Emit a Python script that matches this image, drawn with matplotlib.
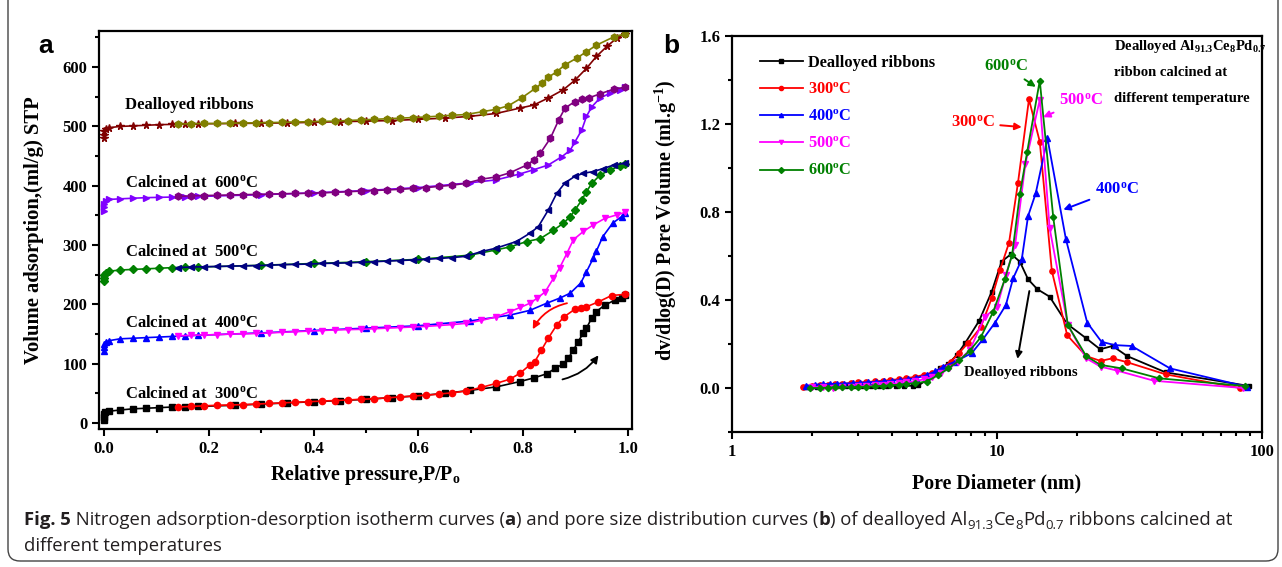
import matplotlib.pyplot as plt
import numpy as np
from matplotlib.patches import FancyBboxPatch
from matplotlib.lines import Line2D

# ---------------- data: (a) isotherms ----------------
p_des_mid = [0.14, 0.165, 0.19, 0.215, 0.24, 0.265, 0.29, 0.315, 0.34, 0.365, 0.39, 0.415,
             0.44, 0.465, 0.49, 0.515, 0.54, 0.565, 0.59, 0.615, 0.64, 0.665, 0.69]

p_300_ads = [0, 0, 0, 0.002, 0.01, 0.03, 0.055, 0.08, 0.105, 0.13, 0.155, 0.18, 0.25, 0.3, 0.35, 0.4,
             0.45, 0.5, 0.55, 0.6, 0.65, 0.698, 0.749, 0.794, 0.82, 0.845, 0.861, 0.877, 0.886, 0.896,
             0.905, 0.915, 0.921, 0.931, 0.94, 0.956, 0.975, 0.988, 0.994]
v_300_ads = [5, 10, 15, 18, 20, 22, 24, 25, 26, 27, 27.5, 28, 30, 32, 34, 36, 38, 40, 43, 46, 50, 55,
             61, 70, 76, 83, 92, 100, 109, 123, 137, 152, 160, 177, 188, 199, 207, 210, 216]
p_300_des = p_des_mid + [0.72, 0.749, 0.775, 0.794, 0.813, 0.822, 0.835, 0.848, 0.864, 0.878, 0.899,
                         0.911, 0.921, 0.943, 0.969, 0.994]
v_300_des = [27, 28, 29, 30, 30.5, 31, 32, 33, 34, 35, 36, 37, 38, 39, 40, 41, 42.5, 44, 45.5, 47, 49,
             51, 54, 60, 67, 74, 84, 98, 103, 123, 143, 165, 179, 192, 194, 196, 204, 215, 217]

p_400_ads = [0, 0, 0, 0.003, 0.01, 0.03, 0.055, 0.08, 0.105, 0.13, 0.155, 0.18, 0.3, 0.4, 0.5, 0.6,
             0.698, 0.775, 0.813, 0.845, 0.871, 0.89, 0.91, 0.921, 0.934, 0.94, 0.952, 0.971, 0.988, 0.994]
v_400_ads = [122, 128, 133, 136, 139, 142, 143, 144, 145, 146, 147, 148, 152, 156, 160, 164, 172, 182,
             190, 202, 211, 219, 236, 255, 278, 290, 314, 337, 348, 354]
p_400_des = p_des_mid + [0.72, 0.749, 0.775, 0.795, 0.813, 0.826, 0.842, 0.858, 0.870, 0.883, 0.896,
                         0.915, 0.934, 0.956, 0.979, 0.994]
v_400_des = [147, 148, 148.5, 149, 150, 150.5, 151, 152, 153, 154, 155, 156, 157, 157.5, 158, 159, 160,
             161, 162, 163, 164.5, 166, 168, 173, 179, 188, 195, 202, 210, 221, 244, 262, 285, 309, 323,
             334, 345, 351, 355]

p_500_ads = [0, 0, 0, 0.003, 0.01, 0.03, 0.055, 0.08, 0.105, 0.13, 0.155, 0.18, 0.3, 0.4, 0.5, 0.6,
             0.698, 0.749, 0.775, 0.807, 0.833, 0.858, 0.877, 0.89, 0.899, 0.912, 0.921, 0.931, 0.947,
             0.966, 0.985, 0.994]
v_500_ads = [240, 245, 250, 253, 256, 258, 259, 260, 261, 262, 262.5, 263, 266, 269, 272, 276, 283, 292,
             297, 306, 311, 325, 337, 348, 359, 376, 390, 404, 418, 427, 433, 437]
p_500_des = p_des_mid + [0.72, 0.749, 0.787, 0.813, 0.829, 0.848, 0.864, 0.88, 0.899, 0.915, 0.934,
                         0.953, 0.973, 0.994]
v_500_des = [262, 263, 263.5, 264, 264.5, 265, 265.5, 266, 267, 267.5, 268, 269, 269.5, 270, 271, 272,
             273, 274, 275, 276, 277.5, 279, 281, 289, 295, 306, 320, 331, 359, 387, 405, 416, 421, 424,
             429, 435, 438]

p_600_ads = [0, 0, 0, 0.003, 0.01, 0.03, 0.055, 0.08, 0.105, 0.13, 0.155, 0.18, 0.3, 0.4, 0.5, 0.6,
             0.698, 0.749, 0.794, 0.82, 0.848, 0.874, 0.89, 0.899, 0.912, 0.921, 0.931, 0.947, 0.966,
             0.985, 0.994]
v_600_ads = [358, 364, 370, 374, 377, 378, 379, 380, 380.5, 381, 381.5, 382, 385, 388, 392, 397, 405,
             410, 420, 427, 435, 449, 460, 474, 494, 517, 533, 548, 556, 562, 566]
p_600_des = p_des_mid + [0.72, 0.749, 0.775, 0.807, 0.82, 0.833, 0.852, 0.868, 0.88, 0.899, 0.912,
                         0.925, 0.947, 0.973, 0.994]
v_600_des = [382, 383, 383.5, 384, 384.5, 385, 385.5, 386, 386.5, 387, 387.5, 388, 389, 390, 391, 392,
             393, 394, 395.5, 397, 399, 401, 404, 411, 415, 422, 435, 443, 455, 480, 511, 531, 542, 546,
             548, 555, 563, 566]

p_deal_ads = [0, 0, 0, 0.003, 0.01, 0.03, 0.055, 0.08, 0.105, 0.13, 0.155, 0.18, 0.25, 0.3, 0.35, 0.4,
              0.45, 0.5, 0.55, 0.6, 0.65, 0.698, 0.749, 0.794, 0.82, 0.848, 0.877, 0.899, 0.921, 0.94,
              0.96, 0.979, 0.994]
v_deal_ads = [480, 486, 492, 495, 498, 500, 501, 502, 503, 503.5, 504, 504.5, 505, 505.5, 506, 507, 508,
              509, 510, 512, 514, 517, 522, 531, 536, 548, 562, 578, 598, 618, 635, 649, 656]
p_deal_des = p_des_mid + [0.723, 0.749, 0.772, 0.797, 0.823, 0.836, 0.848, 0.864, 0.88, 0.902, 0.921,
                          0.94, 0.973, 0.994]
v_deal_des = [504, 504.5, 505, 505, 505.5, 506, 506, 506.5, 507, 507.5, 508, 508.5, 509, 510, 511, 512,
              513, 514, 515, 516, 517.5, 519, 520, 525, 529, 535, 548, 564, 573, 583, 592, 604, 615, 626,
              637, 651, 656]

iso_labels = ["Dealloyed ribbons", "Calcined at  600$^{o}$C", "Calcined at  500$^{o}$C",
              "Calcined at  400$^{o}$C", "Calcined at  300$^{o}$C"]
iso_label_y = [536, 405, 288, 169, 49]

# ---------------- data: (b) pore size distribution ----------------
d_deal = [1.9, 2.1, 2.3, 2.5, 2.7, 2.9, 3.1, 3.35, 3.6, 3.85, 4.15, 4.45, 4.8, 5.05, 5.43, 6.1, 6.55,
          7.05, 7.57, 8.57, 9.55, 10.4, 11.3, 12.2, 13.1, 14.2, 15.8, 18.4, 21.7, 24.5, 27.3, 31.0,
          43.3, 89.6]
psd_deal = [0.005, 0.006, 0.007, 0.008, 0.008, 0.009, 0.009, 0.01, 0.01, 0.01, 0.01, 0.01, 0.01, 0.012,
            0.036, 0.09, 0.11, 0.15, 0.203, 0.306, 0.438, 0.574, 0.609, 0.574, 0.494, 0.449, 0.415,
            0.291, 0.226, 0.176, 0.191, 0.145, 0.071, 0.009]
d_300 = [1.85, 2.0, 2.15, 2.3, 2.45, 2.6, 2.8, 3.0, 3.2, 3.45, 3.7, 3.95, 4.25, 4.55, 4.9, 5.3, 5.7,
         6.2, 6.7, 7.2, 7.8, 8.68, 9.55, 10.26, 11.1, 12.0, 13.2, 14.5, 16.1, 18.4, 21.7, 24.6, 27.3,
         31.0, 43.3, 82.6]
psd_300 = [0.003, 0.01, 0.012, 0.015, 0.017, 0.02, 0.022, 0.025, 0.027, 0.03, 0.033, 0.036, 0.04,
           0.045, 0.05, 0.06, 0.07, 0.09, 0.12, 0.16, 0.206, 0.276, 0.408, 0.536, 0.66, 0.933, 1.312,
           1.12, 0.533, 0.24, 0.145, 0.123, 0.135, 0.117, 0.062, 0.0]
d_400 = [1.9, 2.05, 2.2, 2.35, 2.5, 2.65, 2.85, 3.05, 3.25, 3.5, 3.75, 4.0, 4.3, 4.6, 4.95, 5.43, 5.85,
         6.28, 6.95, 8.02, 8.84, 9.83, 10.8, 11.5, 12.4, 13.1, 14.0, 15.5, 18.2, 21.9, 24.8, 27.8, 32.2,
         45.0, 87.5]
psd_400 = [0.01, 0.015, 0.018, 0.018, 0.02, 0.02, 0.022, 0.024, 0.026, 0.028, 0.03, 0.033, 0.036, 0.04,
           0.045, 0.059, 0.075, 0.097, 0.12, 0.158, 0.221, 0.297, 0.377, 0.498, 0.585, 0.782, 0.885,
           1.135, 0.676, 0.297, 0.21, 0.195, 0.191, 0.089, 0.006]
d_500 = [2.0, 2.2, 2.4, 2.6, 2.8, 3.0, 3.2, 3.45, 3.7, 3.95, 4.25, 4.55, 4.9, 5.3, 5.7, 6.15, 6.6, 7.1,
         7.9, 9.0, 10.0, 10.8, 11.7, 12.8, 14.5, 15.8, 18.5, 21.7, 24.6, 28.4, 39.1, 84.6]
psd_500 = [0.005, 0.003, 0.0, 0.003, 0.005, 0.008, 0.01, 0.012, 0.015, 0.018, 0.022, 0.026, 0.03, 0.04,
           0.05, 0.07, 0.09, 0.12, 0.173, 0.324, 0.367, 0.514, 0.65, 1.02, 1.31, 0.726, 0.286, 0.135,
           0.097, 0.079, 0.033, 0.0]
d_600 = [1.97, 2.15, 2.3, 2.45, 2.6, 2.8, 3.0, 3.2, 3.45, 3.7, 3.95, 4.25, 4.55, 4.9, 5.43, 6.0, 6.55,
         7.2, 7.9, 8.68, 9.68, 10.7, 11.4, 12.2, 13.0, 14.5, 16.3, 18.5, 21.7, 24.6, 29.6, 40.9, 86.3]
psd_600 = [0.0, 0.0, 0.002, 0.003, 0.003, 0.004, 0.005, 0.006, 0.008, 0.01, 0.012, 0.015, 0.018, 0.022,
           0.029, 0.059, 0.089, 0.125, 0.17, 0.23, 0.347, 0.494, 0.605, 0.882, 1.074, 1.397, 0.776,
           0.286, 0.145, 0.105, 0.089, 0.044, 0.009]

psd_labels = ["Dealloyed ribbons", "300$^{o}$C", "400$^{o}$C", "500$^{o}$C", "600$^{o}$C"]

# ---------------- style ----------------
plt.rcParams['font.family'] = 'Liberation Serif'
plt.rcParams['font.weight'] = 'bold'
plt.rcParams['axes.labelweight'] = 'bold'
plt.rcParams['mathtext.fontset'] = 'custom'
plt.rcParams['mathtext.rm'] = 'Liberation Serif:bold'
plt.rcParams['mathtext.it'] = 'Liberation Serif:bold'
plt.rcParams['mathtext.bf'] = 'Liberation Serif:bold'
plt.rcParams['mathtext.default'] = 'bf'

fig = plt.figure(figsize=(12.82, 5.67), dpi=100)

# outer rounded frame
frame = FancyBboxPatch((0.08, 0.06), 12.7, 6.0, boxstyle="round,pad=0,rounding_size=0.12",
                       transform=fig.dpi_scale_trans, fill=False, ec='#444444', lw=1.0)
fig.add_artist(frame)


def style_axes(ax):
    for s in ax.spines.values():
        s.set_linewidth(1.6)
    ax.tick_params(which='both', direction='out', width=1.5, labelsize=12)
    ax.tick_params(which='major', length=5)
    ax.tick_params(which='minor', length=3)
    ax.tick_params(top=False, right=False, which='both')
    for t in ax.get_xticklabels() + ax.get_yticklabels():
        t.set_fontweight('bold')


# ---------------- (a) ----------------
ax1 = fig.add_axes([0.0772, 0.2434, 0.4158, 0.702])
lw = 1.2
ms = 4.5
ax1.plot(p_deal_ads, v_deal_ads, '-*', color='#800000', lw=lw, ms=ms + 1)
ax1.plot(p_deal_des, v_deal_des, '-h', color='#808000', lw=lw, ms=ms + 0.5)
ax1.plot(p_600_ads, v_600_ads, '->', color='#8000ff', lw=lw, ms=ms)
ax1.plot(p_600_des, v_600_des, '-h', color='#800080', lw=lw, ms=ms + 0.5)
ax1.plot(p_500_ads, v_500_ads, '-D', color='#008000', lw=lw, ms=ms - 0.5)
ax1.plot(p_500_des, v_500_des, '-<', color='#000080', lw=lw, ms=ms)
ax1.plot(p_400_ads, v_400_ads, '-^', color='#0000ff', lw=lw, ms=ms)
ax1.plot(p_400_des, v_400_des, '-v', color='#ff00ff', lw=lw, ms=ms)
ax1.plot(p_300_ads, v_300_ads, '-s', color='black', lw=lw, ms=ms - 0.5)
ax1.plot(p_300_des, v_300_des, '-o', color='#ff0000', lw=lw, ms=ms)

ax1.set_xlim(-0.01, 1.008)
ax1.set_ylim(-10, 661)
ax1.set_xticks([0.0, 0.2, 0.4, 0.6, 0.8, 1.0])
ax1.set_xticks(np.arange(0.1, 1.0, 0.2), minor=True)
ax1.set_yticks([0, 100, 200, 300, 400, 500, 600])
ax1.set_yticks(np.arange(50, 651, 100), minor=True)
ax1.xaxis.set_major_formatter(plt.FormatStrFormatter('%.1f'))
style_axes(ax1)
ax1.set_xlabel("Relative pressure,P/P$_\\mathregular{o}$", fontsize=14.3, fontweight='bold')
ax1.set_ylabel("Volume adsorption,(ml/g) STP", fontsize=14.9, fontweight='bold')
ax1.xaxis.set_label_coords(0.5, -0.085)
ax1.yaxis.set_label_coords(-0.103, 0.5)

for lab, yv in zip(iso_labels, iso_label_y):
    ax1.text(0.04, yv, lab, fontsize=12, ha='left', va='center')

ax1.annotate("", xy=(0.816, 154), xytext=(0.889, 203),
             arrowprops=dict(arrowstyle='-|>', color='#ff0000', lw=1.3, mutation_scale=11,
                             connectionstyle='arc3,rad=0.25'))
ax1.annotate("", xy=(0.947, 118), xytext=(0.870, 72.5),
             arrowprops=dict(arrowstyle='-|>', color='black', lw=1.3, mutation_scale=11,
                             connectionstyle='arc3,rad=0.2'))

fig.text(0.030, 0.918, "a", fontsize=19, fontweight='bold', family='Liberation Sans', va='center')

# ---------------- (b) ----------------
ax2 = fig.add_axes([0.571, 0.2381, 0.4134, 0.6984])
lw2 = 1.3
ms2 = 3.8
ax2.plot(d_deal, psd_deal, '-s', color='black', lw=lw2, ms=ms2 - 0.4, label=psd_labels[0])
ax2.plot(d_300, psd_300, '-o', color='#ff0000', lw=lw2, ms=ms2, label=psd_labels[1])
ax2.plot(d_400, psd_400, '-^', color='#0000ff', lw=lw2, ms=ms2, label=psd_labels[2])
ax2.plot(d_500, psd_500, '-v', color='#ff00ff', lw=lw2, ms=ms2, label=psd_labels[3])
ax2.plot(d_600, psd_600, '-D', color='#008000', lw=lw2, ms=ms2 - 0.6, label=psd_labels[4])
ax2.set_xscale('log')
ax2.set_xlim(1, 100)
ax2.set_ylim(-0.2, 1.6)
ax2.set_xticks([1, 10, 100])
ax2.set_xticklabels(['1', '10', '100'])
ax2.set_yticks([0.0, 0.4, 0.8, 1.2, 1.6])
ax2.set_yticks([-0.2, 0.2, 0.6, 1.0, 1.4], minor=True)
ax2.yaxis.set_major_formatter(plt.FormatStrFormatter('%.1f'))
style_axes(ax2)
ax2.set_xlabel("Pore Diameter (nm)", fontsize=14.3, fontweight='bold')
ax2.set_ylabel("dv/dlog(D) Pore Volume (ml.g$^{-1}$)", fontsize=14.5, fontweight='bold')
ax2.xaxis.set_label_coords(0.5, -0.105)
ax2.yaxis.set_label_coords(-0.1, 0.535)

handles = [Line2D([], [], color=c, marker=m, ms=3, lw=1.3)
           for c, m in zip(['black', '#ff0000', '#0000ff', '#ff00ff', '#008000'],
                           ['s', 'o', '^', 'v', 'D'])]
leg = ax2.legend(handles, psd_labels, loc='upper left', bbox_to_anchor=(0.025, 0.99), frameon=False,
                 fontsize=11.8, handlelength=2.6, handletextpad=0.3, labelspacing=0.68,
                 labelcolor=['black', '#ff0000', '#0000ff', '#ff00ff', '#008000'])

arr = dict(arrowstyle='-|>', lw=1.4, mutation_scale=10)
ax2.annotate("600$^{o}$C", xy=(14.3, 1.362), xytext=(10.8, 1.459), color='#008000', fontsize=12,
             ha='center', va='center', arrowprops=dict(arr, color='#008000'))
ax2.annotate("300$^{o}$C", xy=(12.7, 1.185), xytext=(8.1, 1.205), color='#ff0000', fontsize=12,
             ha='center', va='center', arrowprops=dict(arr, color='#ff0000'))
ax2.annotate("500$^{o}$C", xy=(14.6, 1.226), xytext=(20.7, 1.306), color='#ff00ff', fontsize=12,
             ha='center', va='center', arrowprops=dict(arr, color='#ff00ff'))
ax2.annotate("400$^{o}$C", xy=(17.4, 0.806), xytext=(28.3, 0.903), color='#0000ff', fontsize=12,
             ha='center', va='center', arrowprops=dict(arr, color='#0000ff'))
ax2.annotate("", xy=(11.9, 0.12), xytext=(13.3, 0.453), arrowprops=dict(arr, color='black'))
ax2.text(12.3, 0.071, "Dealloyed ribbons", fontsize=10.5, ha='center', va='center')

ax2.text(0.721, 0.973, "Dealloyed Al$_{91.3}$Ce$_{8}$Pd$_{0.7}$", transform=ax2.transAxes,
         fontsize=10.5, va='center')
ax2.text(0.721, 0.907, "ribbon calcined at", transform=ax2.transAxes, fontsize=10.5, va='center')
ax2.text(0.721, 0.843, "different temperature", transform=ax2.transAxes, fontsize=10.5, va='center')

fig.text(0.517, 0.918, "b", fontsize=19, fontweight='bold', family='Liberation Sans', va='center')

# ---------------- caption ----------------
cap_font = 'Open Sans'
cap_size = 13.3
cap_col = '#231f20'
pieces = [("Fig. 5", 'bold', 0), (" Nitrogen adsorption-desorption isotherm curves (", 'normal', 0),
          ("a", 'bold', 0), (") and pore size distribution curves (", 'normal', 0), ("b", 'bold', 0),
          (") of dealloyed Al", 'normal', 0), ("91.3", 'normal', 1), ("Ce", 'normal', 0),
          ("8", 'normal', 1), ("Pd", 'normal', 0), ("0.7", 'normal', 1),
          (" ribbons calcined at", 'normal', 0)]
renderer = fig.canvas.get_renderer()
x_px = 24
y1 = 1 - 525 / 567
for txt, wt, sub in pieces:
    t = fig.text(x_px / 1282, y1 - (4 / 567 if sub else 0), txt, family=cap_font,
                 fontsize=cap_size * (0.72 if sub else 1), fontweight=wt, color=cap_col, va='baseline')
    x_px += t.get_window_extent(renderer).width
fig.text(24 / 1282, 1 - 551 / 567, "different temperatures", family=cap_font, fontsize=cap_size,
         fontweight='normal', color=cap_col, va='baseline')

fig.savefig("out.png", dpi=100)
